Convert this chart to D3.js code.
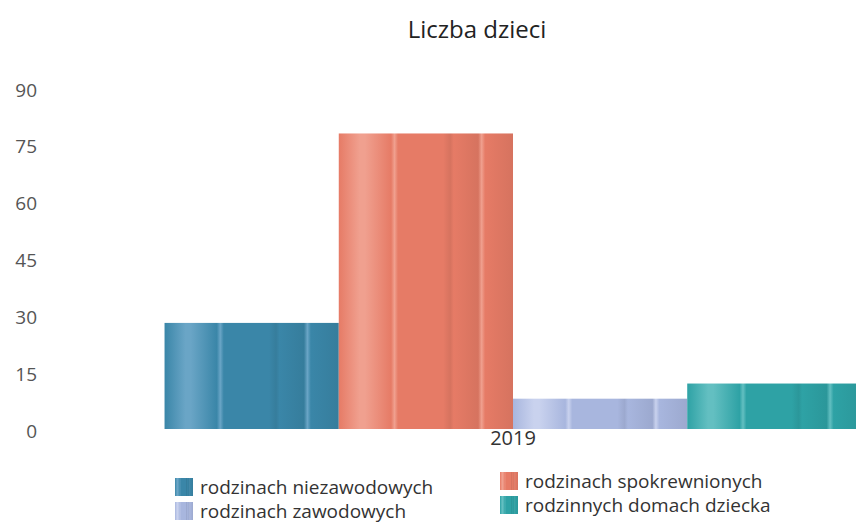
<!DOCTYPE html>
<html>
<head>
<meta charset="utf-8">
<script src="https://cdn.jsdelivr.net/npm/d3@7"></script>
<style>
  body { margin: 0; background: #fff; }
  svg { font-family: "Open Sans", "Noto Sans", sans-serif; }
</style>
</head>
<body>
<div id="chart"></div>
<script>
// data
var categories = ["2019"];
var seriesNames = ["rodzinach niezawodowych", "rodzinach spokrewnionych", "rodzinach zawodowych", "rodzinnych domach dziecka"];
var values2019 = [28, 78, 8, 12];
var yTicks = [0, 15, 30, 45, 60, 75, 90];

var colors = ["#3a86a8", "#e67b66", "#a8b6de", "#2ea2a5"];
var lights = ["#6aa5c6", "#f0a08f", "#c9d2ee", "#63bfc1"];

var width = 856, height = 523;

var svg = d3.select("#chart").append("svg")
  .attr("width", width)
  .attr("height", height);

// gradients, a bit of a 3d column look with light stripes
var defs = svg.append("defs");
colors.forEach(function(c, i) {
  var g = defs.append("linearGradient")
    .attr("id", "grad" + i)
    .attr("x1", "0%").attr("x2", "100%").attr("y1", "0%").attr("y2", "0%");
  var dark = d3.color(c).darker(0.2).formatHex();
  var stops = [
    [0, c], [0.12, lights[i]], [0.15, lights[i]], [0.3, c], [0.32, lights[i]], [0.34, c],
    [0.6, c], [0.64, dark], [0.66, c], [0.8, dark], [0.82, lights[i]], [0.84, c], [1, dark]
  ];
  stops.forEach(function(s) {
    g.append("stop").attr("offset", s[0]).attr("stop-color", s[1]);
  });
});

// title
svg.append("text")
  .attr("x", 477).attr("y", 38)
  .attr("text-anchor", "middle")
  .style("font-size", "24px")
  .style("fill", "#222")
  .text("Liczba dzieci");

// scales
var y = d3.scaleLinear().domain([0, 90]).range([429, 88]);

var x0 = d3.scaleBand().domain(categories).range([60, 966]).paddingInner(0).paddingOuter(0.15);
var x1 = d3.scaleBand().domain(seriesNames).range([0, x0.bandwidth()]);

// y axis labels only
var yAxis = svg.append("g")
  .attr("transform", "translate(37,2)")
  .call(d3.axisLeft(y).tickValues(yTicks).tickSize(0).tickPadding(0));
yAxis.select(".domain").remove();
yAxis.selectAll("text")
  .style("font-size", "19px")
  .style("fill", "#555")
  .style("font-family", "'Open Sans', sans-serif");

// bars
var data = categories.map(function(c) {
  return { cat: c, vals: seriesNames.map(function(s, i) { return { name: s, i: i, v: values2019[i] }; }) };
});

var grp = svg.selectAll("g.cat")
  .data(data).enter().append("g")
  .attr("class", "cat")
  .attr("transform", function(d) { return "translate(" + x0(d.cat) + ",0)"; });

grp.selectAll("rect")
  .data(function(d) { return d.vals; })
  .enter().append("rect")
  .attr("x", function(d) { return x1(d.name); })
  .attr("width", x1.bandwidth())
  .attr("y", function(d) { return y(d.v); })
  .attr("height", function(d) { return y(0) - y(d.v); })
  .style("fill", function(d) { return "url(#grad" + d.i + ")"; });

// x axis label
var xAxis = svg.append("g")
  .attr("transform", "translate(0," + y(0) + ")")
  .call(d3.axisBottom(x0).tickSize(0).tickPadding(2));
xAxis.select(".domain").remove();
xAxis.selectAll("text")
  .style("font-size", "20px")
  .style("fill", "#333")
  .style("font-family", "'Open Sans', sans-serif");

// legend, two columns
var legendPos = [[175, 478], [500, 472], [175, 502], [500, 496]];
var legend = svg.selectAll("g.legend")
  .data(seriesNames).enter().append("g")
  .attr("class", "legend")
  .attr("transform", function(d, i) { return "translate(" + legendPos[i][0] + "," + legendPos[i][1] + ")"; });

legend.append("rect")
  .attr("width", 18).attr("height", 18)
  .style("fill", function(d, i) { return "url(#grad" + i + ")"; });

legend.append("text")
  .attr("x", 25).attr("y", 16)
  .style("font-size", "19px")
  .style("fill", "#333")
  .text(function(d) { return d; });
</script>
</body>
</html>
